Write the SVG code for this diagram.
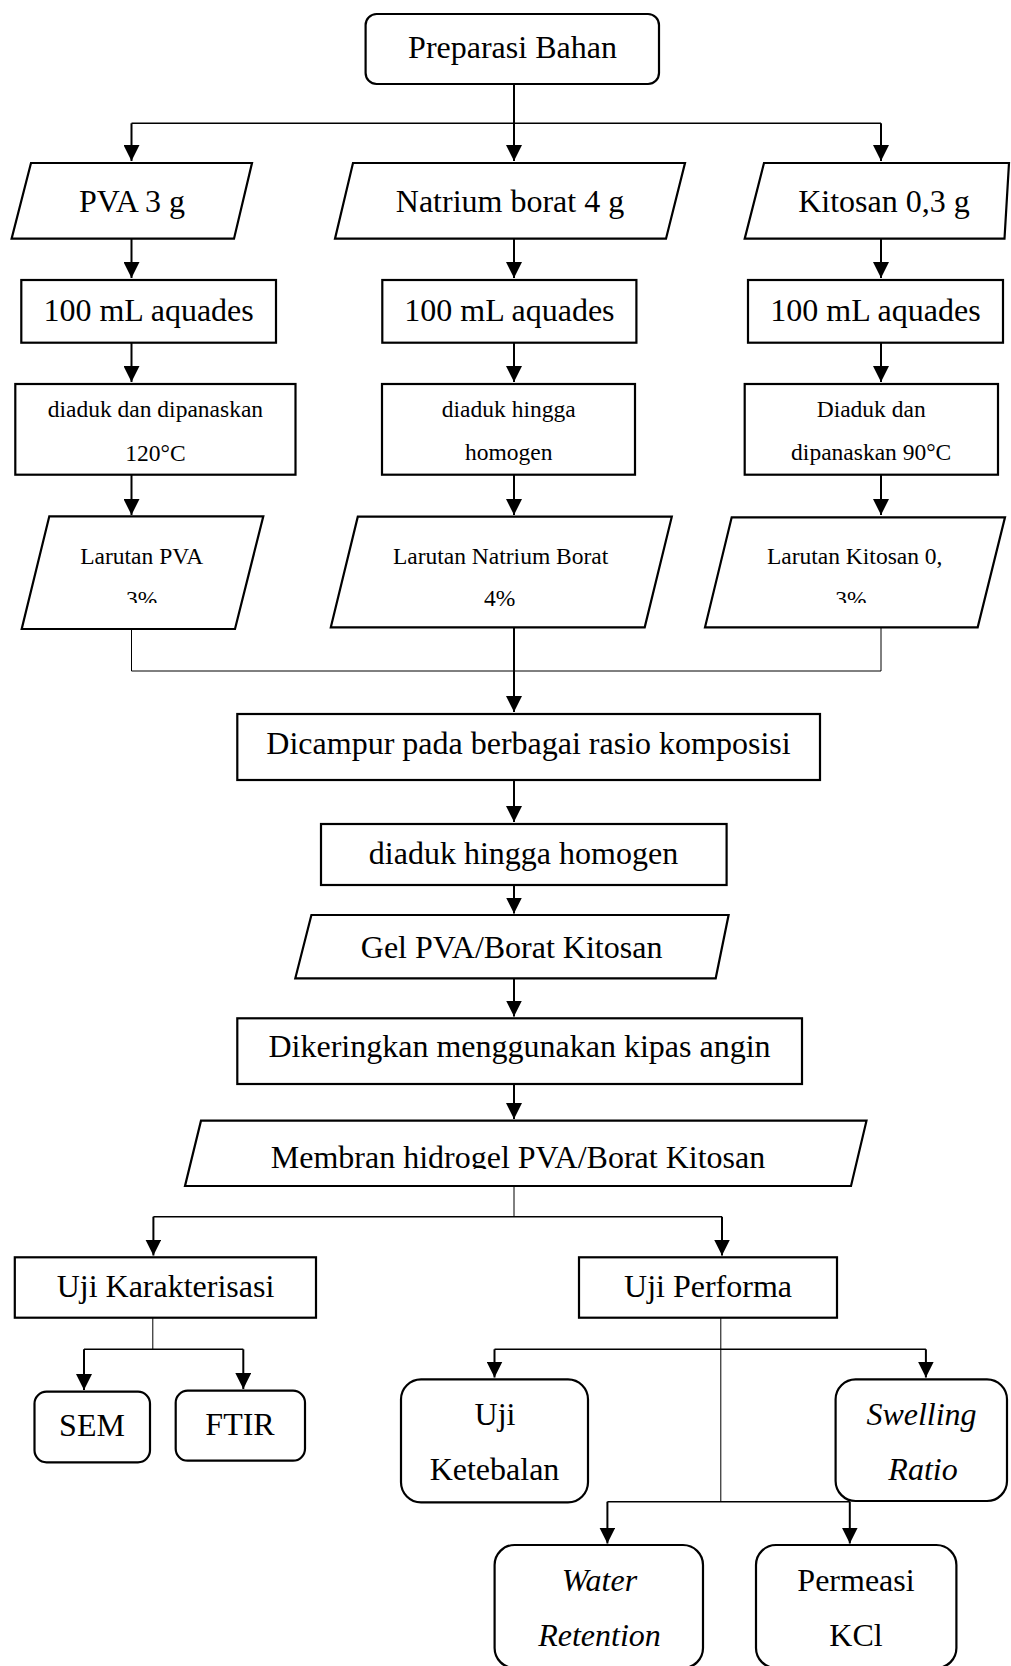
<svg xmlns="http://www.w3.org/2000/svg" width="1011" height="1666" viewBox="0 0 1011 1666">
<style>
.b{fill:#fff;stroke:#000;stroke-width:2.2}
.t{font-family:"Liberation Serif","Times New Roman",serif;font-size:32px;fill:#000;text-anchor:middle}
.s{font-family:"Liberation Serif","Times New Roman",serif;font-size:23.5px;fill:#000;text-anchor:middle}
.i{font-style:italic}
.a{fill:none;stroke:#000;stroke-width:2}
.h{fill:none;stroke:#000;stroke-width:1.5}
.n{fill:none;stroke:#000;stroke-width:1}
</style>
<defs>
<marker id="ar" markerUnits="userSpaceOnUse" markerWidth="16" markerHeight="16" viewBox="0 0 15 15" refX="15" refY="7.5" orient="auto">
<path d="M0,0 L15,7.5 L0,15 z" fill="#000"/>
</marker>
<clipPath id="c1"><rect x="0" y="500" width="1011" height="103"/></clipPath>
<clipPath id="c2"><rect x="0" y="1120" width="1011" height="49"/></clipPath>
</defs>
<rect width="1011" height="1666" fill="#fff"/>
<g id="connectors">
<path class="a" d="M514,84 V161" marker-end="url(#ar)"/>
<path class="h" d="M131.5,123.3 H881"/>
<path class="a" d="M131.5,123.3 V161" marker-end="url(#ar)"/>
<path class="a" d="M881,123.3 V161" marker-end="url(#ar)"/>
<path class="a" d="M131.5,239 V278" marker-end="url(#ar)"/>
<path class="a" d="M514,239 V278" marker-end="url(#ar)"/>
<path class="a" d="M881,239 V278" marker-end="url(#ar)"/>
<path class="a" d="M131.5,343 V382" marker-end="url(#ar)"/>
<path class="a" d="M514,343 V382" marker-end="url(#ar)"/>
<path class="a" d="M881,343 V382" marker-end="url(#ar)"/>
<path class="a" d="M131.5,475 V515" marker-end="url(#ar)"/>
<path class="a" d="M514,475 V515" marker-end="url(#ar)"/>
<path class="a" d="M881,475 V515" marker-end="url(#ar)"/>
<path class="n" d="M131.5,629 V671 H881 V627"/>
<path class="a" d="M514,627 V712" marker-end="url(#ar)"/>
<path class="a" d="M514,780 V822" marker-end="url(#ar)"/>
<path class="a" d="M514,885 V913.5" marker-end="url(#ar)"/>
<path class="a" d="M514,978 V1016.5" marker-end="url(#ar)"/>
<path class="a" d="M514,1084 V1119" marker-end="url(#ar)"/>
<path class="n" d="M514,1186 V1216.7"/>
<path class="h" d="M153.4,1216.7 H722"/>
<path class="a" d="M153.4,1216.7 V1255.5" marker-end="url(#ar)"/>
<path class="a" d="M722,1216.7 V1255.5" marker-end="url(#ar)"/>
<path class="n" d="M152.8,1318 V1349.3"/>
<path class="h" d="M84,1349.3 H243.3"/>
<path class="a" d="M84,1349.3 V1390" marker-end="url(#ar)"/>
<path class="a" d="M243.3,1349.3 V1389" marker-end="url(#ar)"/>
<path class="n" d="M720.8,1318 V1501.7"/>
<path class="h" d="M494.5,1349.3 H925.9"/>
<path class="a" d="M494.5,1349.3 V1377.5" marker-end="url(#ar)"/>
<path class="a" d="M925.9,1349.3 V1377.5" marker-end="url(#ar)"/>
<path class="h" d="M607.4,1501.7 H849.8"/>
<path class="a" d="M607.4,1501.7 V1543.5" marker-end="url(#ar)"/>
<path class="a" d="M849.8,1501.7 V1543.5" marker-end="url(#ar)"/>
</g>
<g id="preparasi"><rect class="b" x="365.6" y="14" width="293.4" height="70" rx="11"/><text class="t" x="512.5" y="58.3">Preparasi Bahan</text></g>
<g id="pva"><path class="b" d="M31,163 H252 L234,238.7 H11.6 Z"/><text class="t" x="132" y="211.7">PVA 3 g</text></g>
<g id="natrium"><path class="b" d="M353,163 H685 L666,238.7 H335 Z"/><text class="t" x="510" y="211.7">Natrium borat 4 g</text></g>
<g id="kitosan"><path class="b" d="M764,163 H1009 L1004.5,238.7 H744.7 Z"/><text class="t" x="884" y="211.7">Kitosan 0,3 g</text></g>
<g id="aquades1"><rect class="b" x="21.3" y="280" width="254.7" height="62.7"/><text class="t" x="148.6" y="320.7">100 mL aquades</text></g>
<g id="aquades2"><rect class="b" x="382.3" y="280" width="254.1" height="62.7"/><text class="t" x="509.4" y="320.7">100 mL aquades</text></g>
<g id="aquades3"><rect class="b" x="748" y="280" width="255" height="62.7"/><text class="t" x="875.5" y="320.7">100 mL aquades</text></g>
<g id="aduk1"><rect class="b" x="15.3" y="384" width="280.2" height="90.7"/><text class="s" x="155.4" y="417">diaduk dan dipanaskan</text><text class="s" x="155.4" y="460.5">120°C</text></g>
<g id="aduk2"><rect class="b" x="382" y="384" width="253" height="90.7"/><text class="s" x="508.7" y="417">diaduk hingga</text><text class="s" x="508.7" y="459.5">homogen</text></g>
<g id="aduk3"><rect class="b" x="744.7" y="384" width="253.3" height="90.7"/><text class="s" x="871.2" y="417">Diaduk dan</text><text class="s" x="871.2" y="460">dipanaskan 90°C</text></g>
<g id="larutan-pva"><path class="b" d="M49.3,516.3 H263.3 L235,629 H21.7 Z"/><g clip-path="url(#c1)"><text class="s" x="141.7" y="564">Larutan PVA</text><text class="s" x="141.7" y="606.5">3%</text></g></g>
<g id="larutan-natrium"><path class="b" d="M357.8,516.7 H671.8 L644.7,627.3 H330.8 Z"/><text class="s" x="500.6" y="563.5">Larutan Natrium Borat</text><text class="s" x="499.7" y="605.7">4%</text></g>
<g id="larutan-kitosan"><path class="b" d="M731.7,517.3 H1005 L977.7,627.3 H705 Z"/><g clip-path="url(#c1)"><text class="s" x="854.7" y="564">Larutan Kitosan 0,</text><text class="s" x="851" y="606.5">3%</text></g></g>
<g id="dicampur"><rect class="b" x="237.3" y="714" width="582.7" height="66"/><text class="t" x="528.5" y="754">Dicampur pada berbagai rasio komposisi</text></g>
<g id="homogen"><rect class="b" x="321" y="824" width="405.6" height="61"/><text class="t" x="523.5" y="864.3">diaduk hingga homogen</text></g>
<g id="gel"><path class="b" d="M311.4,915 H728.6 L715.7,978.3 H295.3 Z"/><text class="t" x="511.6" y="958.3">Gel PVA/Borat Kitosan</text></g>
<g id="dikeringkan"><rect class="b" x="237.3" y="1018.3" width="564.7" height="65.7"/><text class="t" x="519.5" y="1057.3">Dikeringkan menggunakan kipas angin</text></g>
<g id="membran"><path class="b" d="M201,1120.7 H866.5 L851,1186 H185 Z"/><g clip-path="url(#c2)"><text class="t" x="518" y="1167.7">Membran hidrogel PVA/Borat Kitosan</text></g></g>
<g id="karakterisasi"><rect class="b" x="14.8" y="1257.3" width="301.2" height="60.4"/><text class="t" x="165.5" y="1296.7">Uji Karakterisasi</text></g>
<g id="performa"><rect class="b" x="579" y="1257.3" width="258" height="60.4"/><text class="t" x="708" y="1296.7">Uji Performa</text></g>
<g id="sem"><rect class="b" x="34.5" y="1391.7" width="115.5" height="70.6" rx="12"/><text class="t" x="92" y="1436">SEM</text></g>
<g id="ftir"><rect class="b" x="175.7" y="1390.7" width="129.3" height="70" rx="12"/><text class="t" x="240" y="1435">FTIR</text></g>
<g id="ketebalan"><rect class="b" x="401" y="1379.3" width="187" height="123" rx="20"/><text class="t" x="495" y="1425">Uji</text><text class="t" x="494.5" y="1480">Ketebalan</text></g>
<g id="swelling"><rect class="b" x="835.6" y="1379.3" width="171.4" height="121.7" rx="20"/><text class="t i" x="921.5" y="1425">Swelling</text><text class="t i" x="923" y="1480">Ratio</text></g>
<g id="water"><rect class="b" x="494.6" y="1545" width="208.4" height="123" rx="20"/><text class="t i" x="599.5" y="1590.7">Water</text><text class="t i" x="599.5" y="1646">Retention</text></g>
<g id="permeasi"><rect class="b" x="756" y="1545" width="200.4" height="123" rx="20"/><text class="t" x="856" y="1590.7">Permeasi</text><text class="t" x="856" y="1646">KCl</text></g>
</svg>
